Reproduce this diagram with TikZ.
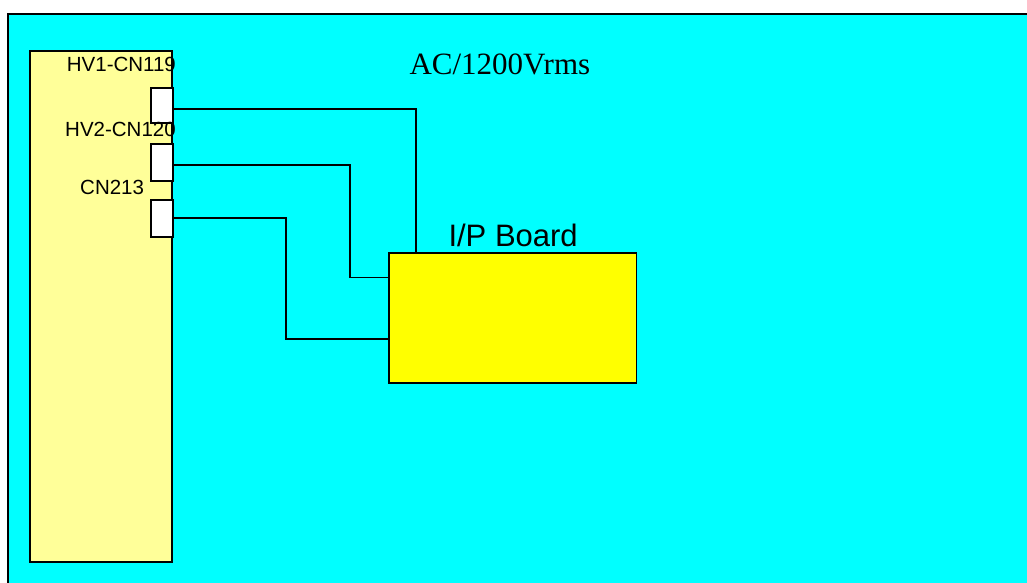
\documentclass[tikz,border=0pt]{standalone}
\usepackage{fontspec}
\setmainfont{Liberation Serif}
\newfontfamily\arialf{Liberation Sans}
\definecolor{bgcyan}{RGB}{0,255,255}
\definecolor{panelyellow}{RGB}{255,255,153}
\definecolor{boardyellow}{RGB}{255,255,0}
\begin{document}
\begin{tikzpicture}[x=1pt,y=-1pt,
  frame/.style={draw=black,line width=2.5pt,fill=bgcyan},
  panel/.style={draw=black,line width=1.8pt,fill=panelyellow,inner sep=0pt,minimum width=142pt,minimum height=511pt},
  conn/.style={draw=black,line width=1.8pt,fill=white,inner sep=0pt,minimum width=22.6pt},
  board/.style={draw=black,line width=1.6pt,fill=boardyellow,inner sep=0pt,minimum width=247.7pt,minimum height=130pt},
  wire/.style={draw=black,line width=1.3pt},
  lbl/.style={inner sep=0pt,anchor=base west,font=\arialf\fontsize{20.5}{24}\selectfont},
  big/.style={inner sep=0pt,anchor=base west,font=\fontsize{31}{36}\selectfont},
  bigs/.style={inner sep=0pt,anchor=base west,font=\arialf\fontsize{31}{36}\selectfont}]
\clip (0,0) rectangle (1027,583);
\fill[white] (0,0) rectangle (1027,583);
\draw[frame] (8,14) rectangle (1040,600);
\node[panel] (panel) at (101,306.3) {};
\node[conn,minimum height=35pt] (box1) at (162,105.5) {};
\node[conn,minimum height=37.3pt] (box2) at (162,162.3) {};
\node[conn,minimum height=37pt] (box3) at (162,218.2) {};
\node[board] (board) at (512.8,318) {};
\draw[wire] (box1.east |- 0,109) -| (board.north -| 416,0);
\draw[wire] (box2.east |- 0,165) -- (350,165) |- (board.west |- 0,277.3);
\draw[wire] (box3.east |- 0,218) -- (286,218) |- (board.west |- 0,339);
\node[lbl] (t1) at (66.7,71.7) {HV1-CN119};
\node[lbl] (t2) at (65,136.7) {HV2-CN120};
\node[lbl] (t3) at (80,194) {CN213};
\node[big] (ac) at (409.3,75) {AC/1200Vrms};
\node[bigs] (ip) at (448.3,246.7) {I/P Board};
\end{tikzpicture}
\end{document}
